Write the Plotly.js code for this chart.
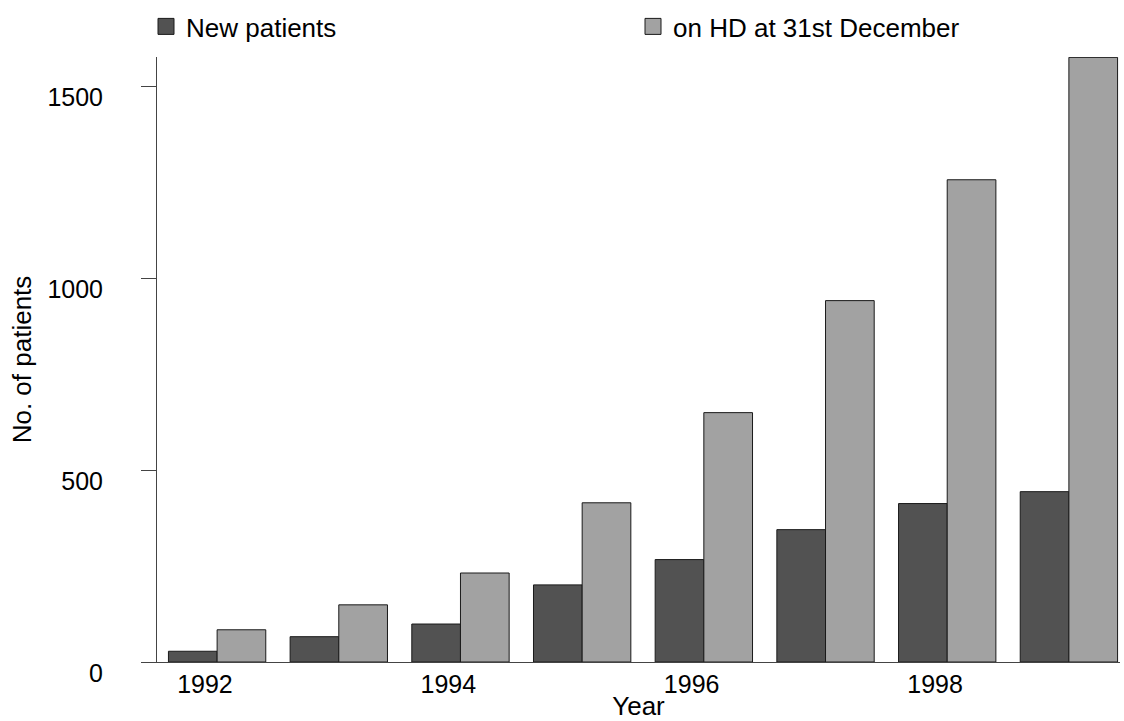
<!DOCTYPE html>
<html>
<head>
<meta charset="utf-8">
<script src="https://cdn.plot.ly/plotly-3.0.1.min.js"></script>
<style>html,body{margin:0;padding:0;background:#fff;}#chart{width:1124px;height:721px;}</style>
</head>
<body>
<div id="chart"></div>
<script>
const years = [1992, 1993, 1994, 1995, 1996, 1997, 1998, 1999];
const newPatients = [28, 66, 99, 201, 267, 345, 413, 444];
const onHD = [84, 149, 232, 415, 650, 942, 1257, 1576];
const seriesNames = ['New patients', 'on HD at 31st December'];
const seriesColors = ['#525252', '#a2a2a2'];
const xTickVals = [1992, 1994, 1996, 1998];
const yTickVals = [0, 500, 1000, 1500];

const FONT = 'Liberation Sans, Arial, sans-serif';
const EDGE = '#1a1a1a';

const traces = [
  {
    type: 'bar', x: years, y: newPatients, name: seriesNames[0],
    width: 0.4, offset: -0.3, showlegend: false,
    marker: {color: seriesColors[0], line: {color: EDGE, width: 1}},
    hoverinfo: 'x+y'
  },
  {
    type: 'bar', x: years, y: onHD, name: seriesNames[1],
    width: 0.4, offset: 0.1, showlegend: false,
    marker: {color: seriesColors[1], line: {color: EDGE, width: 1}},
    hoverinfo: 'x+y'
  },
  // legend keys (larger square swatches than the fixed bar legend symbol)
  {
    type: 'scatter', mode: 'markers', x: [null], y: [null], name: seriesNames[0],
    legend: 'legend', hoverinfo: 'skip',
    marker: {symbol: 'square', size: 16, color: seriesColors[0], line: {color: EDGE, width: 1}}
  },
  {
    type: 'scatter', mode: 'markers', x: [null], y: [null], name: seriesNames[1],
    legend: 'legend2', hoverinfo: 'skip',
    marker: {symbol: 'square', size: 16, color: seriesColors[1], line: {color: EDGE, width: 1}}
  }
];

const legendBase = {
  orientation: 'h', xref: 'container', yref: 'container',
  xanchor: 'left', yanchor: 'top', itemsizing: 'trace',
  font: {family: FONT, size: 26, color: '#000'},
  bgcolor: 'rgba(0,0,0,0)', borderwidth: 0
};

const layout = {
  width: 1124, height: 721,
  margin: {l: 157, r: 4, t: 57, b: 59, pad: 0, autoexpand: false},
  paper_bgcolor: '#ffffff', plot_bgcolor: '#ffffff',
  font: {family: FONT, size: 25, color: '#000000'},
  barmode: 'overlay',
  showlegend: true,
  legend: Object.assign({}, legendBase, {x: 146 / 1124, y: 1 - 3 / 721}),
  legend2: Object.assign({}, legendBase, {x: 633 / 1124, y: 1 - 3 / 721}),
  xaxis: {
    range: [1991.606, 1999.52], tickvals: xTickVals, ticktext: xTickVals.map(String),
    ticks: '', showgrid: false, zeroline: false, automargin: true,
    showline: true, linecolor: '#444444', linewidth: 1,
    tickfont: {family: FONT, size: 25, color: '#000'},
    title: {text: 'Year', font: {family: FONT, size: 26, color: '#000'}, standoff: 3}
  },
  yaxis: {
    range: [0, 1577], tickvals: yTickVals, ticktext: yTickVals.map(String),
    ticks: 'outside', ticklen: 15, tickcolor: '#444444', tickwidth: 1,
    showgrid: false, zeroline: false,
    showline: true, linecolor: '#444444', linewidth: 1,
    ticklabelstandoff: 33, ticklabelshift: 11,
    tickfont: {family: FONT, size: 25, color: '#000'},
    title: {text: 'No. of patients', font: {family: FONT, size: 26, color: '#000'}, standoff: 8}
  }
};

Plotly.newPlot('chart', traces, layout, {displayModeBar: false, staticPlot: true});
</script>
</body>
</html>
